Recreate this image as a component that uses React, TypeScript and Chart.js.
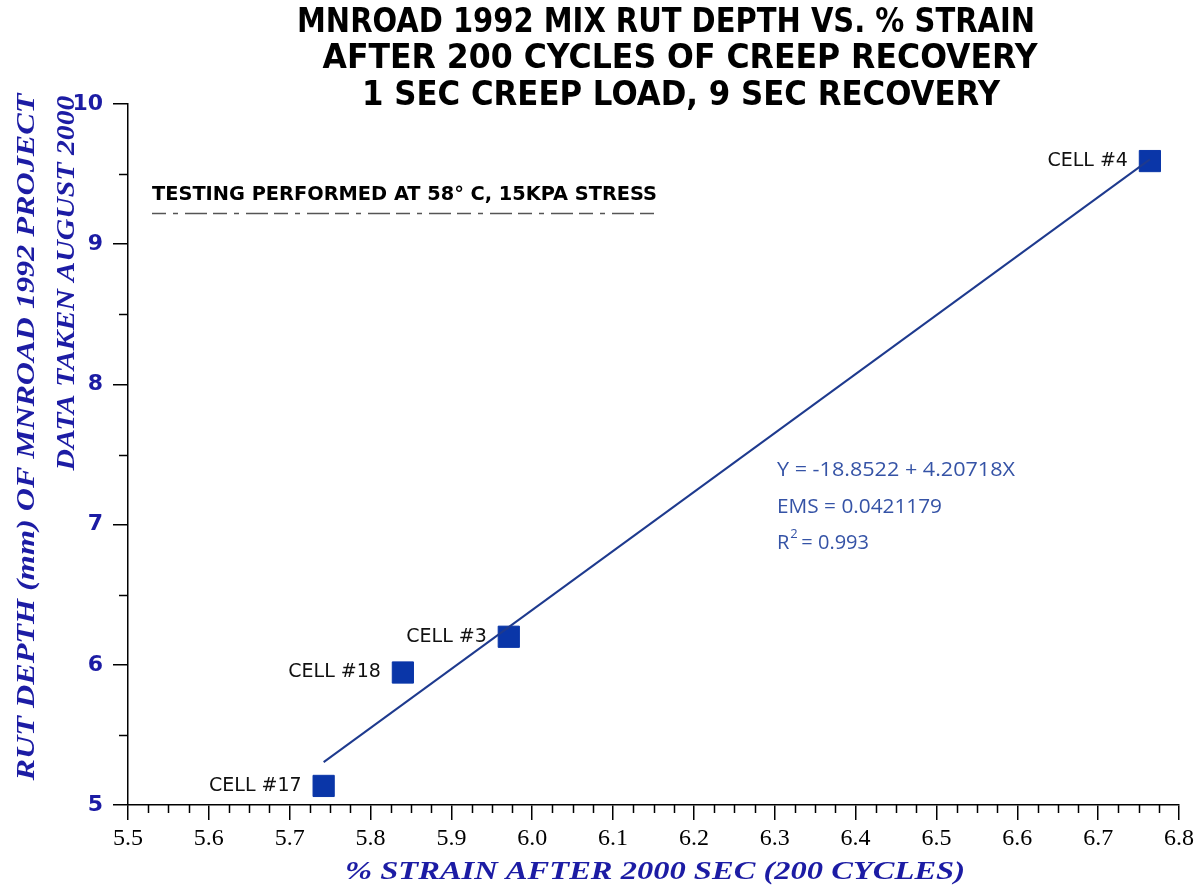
import React, { useEffect, useRef } from "react";
import { Chart, registerables } from "chart.js";

Chart.register(...registerables);

const cellLabels = ["CELL #4", "CELL #3", "CELL #18", "CELL #17"];
const strainValues = [6.764, 5.971, 5.84, 5.742];
const rutDepths = [9.593, 6.2, 5.945, 5.136];
const fitIntercept = -18.8522;
const fitSlope = 4.20718;
const titleLines = [
  "MNROAD 1992 MIX RUT DEPTH VS. % STRAIN",
  "AFTER 200 CYCLES OF CREEP RECOVERY",
  "1 SEC CREEP LOAD, 9 SEC RECOVERY",
];
const noteText = "TESTING PERFORMED AT 58° C, 15KPA STRESS";
const statLines = ["Y = -18.8522 + 4.20718X", "EMS = 0.0421179"];
const r2Value = "0.993";
const xTitle = "% STRAIN AFTER 2000 SEC (200 CYCLES)";
const yTitleLines = ["RUT DEPTH (mm) OF MNROAD 1992 PROJECT", "DATA TAKEN AUGUST 2000"];

const BLUE = "#1c1ca4";

function fitText(ctx: CanvasRenderingContext2D, text: string, x: number, y: number, width: number, align: "center" | "left") {
  const w = ctx.measureText(text).width;
  const sx = width / w;
  ctx.save();
  ctx.translate(x, y);
  ctx.scale(sx, 1);
  ctx.textAlign = align;
  ctx.fillText(text, 0, 0);
  ctx.restore();
}

const decorPlugin = {
  id: "decor",
  afterDraw(chart: any) {
    const ctx: CanvasRenderingContext2D = chart.ctx;
    const xs = chart.scales.x;
    const ys = chart.scales.y;
    const area = chart.chartArea;
    ctx.save();
    // minor ticks
    ctx.strokeStyle = "#000";
    ctx.lineWidth = 1.5;
    ctx.beginPath();
    for (let i = 0; i <= 52; i++) {
      if (i % 4 === 0) continue;
      const v = 5.5 + i * 0.025;
      const px = Math.round(xs.getPixelForValue(v)) + 0.5;
      ctx.moveTo(px, area.bottom);
      ctx.lineTo(px, area.bottom + 8);
    }
    for (let i = 0; i < 5; i++) {
      const v = 5.5 + i;
      const py = Math.round(ys.getPixelForValue(v)) + 0.5;
      ctx.moveTo(area.left, py);
      ctx.lineTo(area.left - 9, py);
    }
    ctx.stroke();

    // title
    ctx.fillStyle = "#000";
    ctx.textBaseline = "middle";
    ctx.font = "bold 34px 'DejaVu Sans'";
    const tCenters = [666, 680, 681];
    const tY = [23, 59, 96];
    const tW = [738, 715, 638];
    titleLines.forEach((t, i) => fitText(ctx, t, tCenters[i], tY[i], tW[i], "center"));

    // note
    ctx.font = "bold 20px 'DejaVu Sans Condensed', 'DejaVu Sans'";
    fitText(ctx, noteText, 152, 195, 505, "left");
    ctx.strokeStyle = "#555";
    ctx.lineWidth = 1.5;
    ctx.setLineDash([14, 7, 5, 7, 22, 6]);
    ctx.beginPath();
    ctx.moveTo(152, 213.5);
    ctx.lineTo(657, 213.5);
    ctx.stroke();
    ctx.setLineDash([]);

    // stats
    ctx.fillStyle = "#3553a6";
    ctx.font = "20px 'Open Sans'";
    fitText(ctx, statLines[0], 777, 470, 238, "left");
    fitText(ctx, statLines[1], 777, 507, 165, "left");
    ctx.textAlign = "left";
    ctx.fillText("R", 777, 543);
    const rw = ctx.measureText("R").width;
    ctx.font = "13px 'Open Sans'";
    ctx.fillText("2", 777 + rw + 1, 534);
    ctx.font = "20px 'Open Sans'";
    ctx.fillText("= " + r2Value, 777 + rw + 12, 543);

    // cell labels
    const meta = chart.getDatasetMeta(1);
    ctx.fillStyle = "#111";
    ctx.font = "19px 'DejaVu Sans'";
    ctx.textAlign = "right";
    meta.data.forEach((pt: any, i: number) => {
      ctx.fillText(cellLabels[i], pt.x - 22, pt.y);
    });

    // axis titles
    ctx.fillStyle = BLUE;
    ctx.font = "italic bold 25px 'Liberation Serif'";
    ctx.textAlign = "center";
    fitText(ctx, xTitle, 655, 873, 620, "center");

    ctx.save();
    ctx.translate(28, 0);
    ctx.rotate(-Math.PI / 2);
    fitText(ctx, yTitleLines[0], -437, 0, 687, "center");
    ctx.restore();
    ctx.save();
    ctx.translate(68, 0);
    ctx.rotate(-Math.PI / 2);
    fitText(ctx, yTitleLines[1], -283, 0, 375, "center");
    ctx.restore();

    ctx.restore();
  },
};

export default function App() {
  const ref = useRef<HTMLCanvasElement | null>(null);
  useEffect(() => {
    document.body.style.margin = "0";
    if (!ref.current) return;
    const minX = Math.min(...strainValues);
    const maxX = Math.max(...strainValues);
    const chart = new Chart(ref.current, {
      type: "scatter",
      data: {
        datasets: [
          {
            label: "fit",
            data: [
              { x: minX, y: fitIntercept + fitSlope * minX },
              { x: maxX, y: fitIntercept + fitSlope * maxX },
            ],
            showLine: true,
            borderColor: "#1e3a8e",
            borderWidth: 2,
            pointRadius: 0,
            pointHoverRadius: 0,
          },
          {
            label: "cells",
            data: strainValues.map((x, i) => ({ x, y: rutDepths[i] })),
            pointStyle: "rect",
            pointRadius: 15,
            backgroundColor: "#0a36a8",
            borderColor: "#0a36a8",
            borderWidth: 1,
          },
        ],
      },
      options: {
        responsive: false,
        animation: false,
        layout: { padding: { top: 104, right: 22, left: 0, bottom: 0 } },
        plugins: { legend: { display: false }, tooltip: { enabled: false }, title: { display: false } },
        scales: {
          x: {
            type: "linear",
            min: 5.5,
            max: 6.8,
            afterFit: (s: any) => {
              s.height = 86;
            },
            ticks: {
              stepSize: 0.1,
              callback: (v: any) => Number(v).toFixed(1),
              color: "#000",
              font: { family: "'Liberation Serif'", size: 24 },
              padding: 4,
              maxRotation: 0,
              autoSkip: false,
            },
            grid: { drawOnChartArea: false, drawTicks: true, tickLength: 15, color: "#000", lineWidth: 1.5 },
            border: { display: true, color: "#000", width: 1.5 },
          },
          y: {
            type: "linear",
            min: 5,
            max: 10,
            afterFit: (s: any) => {
              s.width = 128;
            },
            ticks: {
              stepSize: 1,
              color: BLUE,
              font: { family: "'DejaVu Sans'", size: 22, weight: "bold" },
              padding: 10,
            },
            grid: { drawOnChartArea: false, drawTicks: true, tickLength: 15, color: "#000", lineWidth: 1.5 },
            border: { display: true, color: "#000", width: 1.5 },
          },
        },
      },
      plugins: [decorPlugin],
    });
    return () => chart.destroy();
  }, []);
  return (
    <div style={{ width: 1201, height: 891, background: "#fff" }}>
      <canvas ref={ref} width={1201} height={891} />
    </div>
  );
}
